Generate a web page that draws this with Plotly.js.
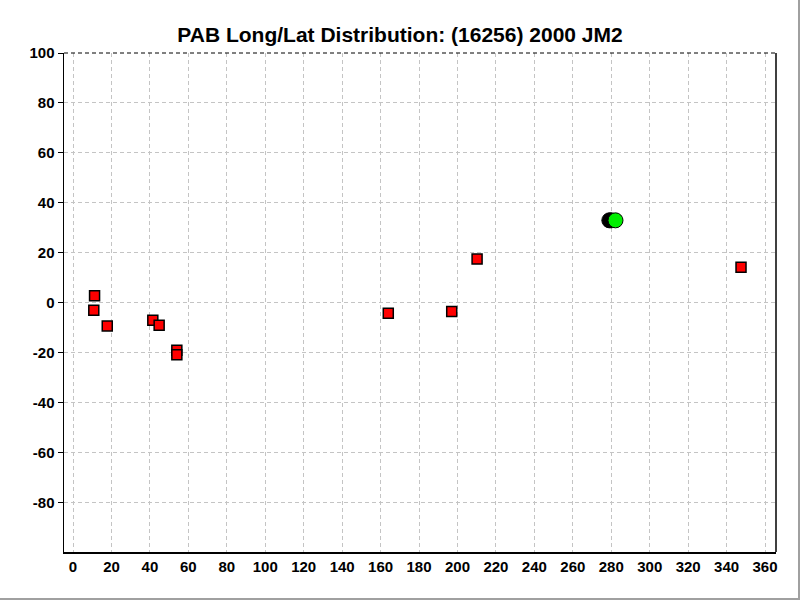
<!DOCTYPE html>
<html>
<head>
<meta charset="utf-8">
<script src="https://cdn.plot.ly/plotly-3.0.1.min.js"></script>
<style>
html,body{margin:0;padding:0;background:#fff;}
#wrap{position:absolute;left:0;top:0;width:798px;height:598px;border-right:2px solid #a0a0a0;border-bottom:2px solid #a0a0a0;}
#plot{width:798px;height:598px;}
</style>
</head>
<body>
<div id="wrap"><div id="plot"></div></div>
<script>
var sqLong = [11.2, 10.8, 17.8, 41.5, 44.8, 54.0, 54.0, 164.0, 197.0, 210.2, 347.5];
var sqLat  = [2.8, -3.0, -9.3, -7.0, -9.0, -19.0, -20.8, -4.2, -3.5, 17.5, 14.2];
var blkLong = [279.0, 280.0];
var blkLat  = [33.0, 33.0];
var grnLong = [282.2];
var grnLat  = [33.0];
var xTicks = [0,20,40,60,80,100,120,140,160,180,200,220,240,260,280,300,320,340,360];
var yTicks = [100,80,60,40,20,0,-20,-40,-60,-80];

var tickFont = {family:'Arial, "Liberation Sans", sans-serif', size:15, color:'#000'};
function bold(a){return a.map(function(v){return '<b>'+v+'</b>';});}

var traces = [
  {x:sqLong, y:sqLat, type:'scatter', mode:'markers',
   marker:{symbol:'square', size:10, color:'#ff0000', line:{color:'#000', width:1.5}}, showlegend:false},
  {x:blkLong, y:blkLat, type:'scatter', mode:'markers',
   marker:{symbol:'circle', size:15, color:'#000000', line:{color:'#000', width:1}}, showlegend:false},
  {x:grnLong, y:grnLat, type:'scatter', mode:'markers',
   marker:{symbol:'circle', size:15, color:'#00ee00', line:{color:'#000', width:1}}, showlegend:false}
];

var layout = {
  width:798, height:598,
  margin:{l:64, r:22, t:53, b:46},
  paper_bgcolor:'#fff', plot_bgcolor:'#fff',
  title:{text:'<b>PAB Long/Lat Distribution: (16256) 2000 JM2</b>', x:400/798, xanchor:'center', xref:'container',
         y:1-35/598, yanchor:'middle', yref:'container',
         font:{family:'Arial, "Liberation Sans", sans-serif', size:21, color:'#000'}},
  xaxis:{range:[-4.7, 365.7], tickvals:xTicks, ticktext:bold(xTicks), showgrid:true,
         gridcolor:'#c4c4c4', griddash:'4px,3px', gridwidth:1, zeroline:false,
         showline:true, linecolor:'#000', linewidth:1.5, mirror:false,
         ticks:'', tickfont:tickFont},
  yaxis:{range:[-99.8, 100], tickvals:yTicks, ticktext:bold(yTicks), showgrid:true,
         gridcolor:'#c4c4c4', griddash:'4px,3px', gridwidth:1, zeroline:false,
         showline:true, linecolor:'#000', linewidth:1.5,
         ticks:'outside', ticklen:5, tickcolor:'#000', tickfont:tickFont},
  shapes:[
    {type:'line', xref:'paper', yref:'paper', x0:0, x1:1, y0:1, y1:1, line:{color:'#000', width:1, dash:'4px,3px'}},
    {type:'line', xref:'paper', yref:'paper', x0:1, x1:1, y0:0, y1:1, line:{color:'#000', width:1.5}}
  ]
};

Plotly.newPlot('plot', traces, layout, {staticPlot:true});
</script>
</body>
</html>
